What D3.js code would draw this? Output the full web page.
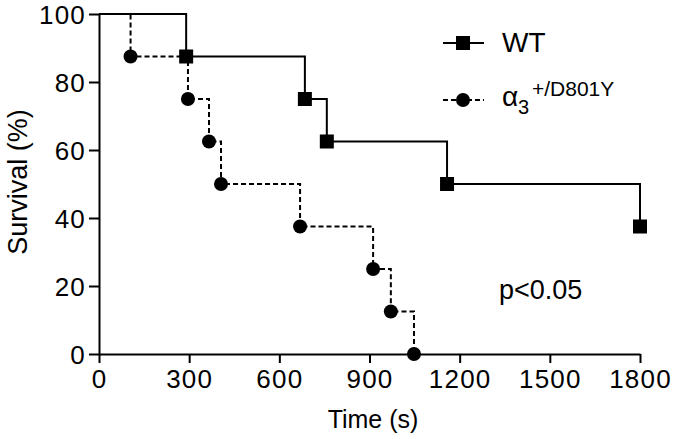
<!DOCTYPE html>
<html><head><meta charset="utf-8">
<script src="https://cdn.jsdelivr.net/npm/d3@7"></script>
<style>body{margin:0;background:#fff}text{font-family:"Liberation Sans",Arial,sans-serif;fill:#000}</style>
</head><body><svg id="c" width="675" height="439"></svg>
<script>
const wtTimes = [290, 685, 758, 1158, 1800];
const wtSurvival = [87.5, 75, 62.5, 50, 37.5];
const mutTimes = [105, 296, 366, 406, 669, 912, 971, 1048];
const mutSurvival = [87.5, 75, 62.5, 50, 37.5, 25, 12.5, 0];
const xTicks = [0, 300, 600, 900, 1200, 1500, 1800];
const yTicks = [0, 20, 40, 60, 80, 100];

const svg = d3.select("#c");
const x = d3.scaleLinear().domain([0, 1800]).range([99, 640]);
const y = d3.scaleLinear().domain([0, 100]).range([354, 14]);

const xAxis = svg.append("g").attr("transform", "translate(0,354)")
  .call(d3.axisBottom(x).tickValues(xTicks).tickFormat(d3.format("d")).tickSize(9).tickPadding(5).tickSizeOuter(0));
const yAxis = svg.append("g").attr("transform", "translate(99,0)")
  .call(d3.axisLeft(y).tickValues(yTicks).tickFormat(d3.format("d")).tickSize(10).tickPadding(3).tickSizeOuter(0));
[xAxis, yAxis].forEach(a => {
  a.select(".domain").attr("stroke", "#000").attr("stroke-width", 2);
  a.selectAll(".tick line").attr("stroke", "#000").attr("stroke-width", 2);
  a.selectAll(".tick text").attr("font-size", 26).attr("letter-spacing", 1.2)
    .attr("font-family", "Liberation Sans, Arial, sans-serif").attr("fill", "#000");
});
xAxis.selectAll(".tick text").attr("dy", "0.78em");
yAxis.selectAll(".tick text").attr("dy", "0.36em");

svg.append("text").attr("x", 373).attr("y", 428).attr("text-anchor", "middle").attr("font-size", 25).text("Time (s)");
svg.append("text").attr("transform", "translate(27,182) rotate(-90)").attr("text-anchor", "middle").attr("font-size", 27).text("Survival (%)");

const stepLine = d3.line().x(d => x(d[0])).y(d => y(d[1])).curve(d3.curveStepAfter);
const mutPts = [[0, 100]].concat(mutTimes.map((t, i) => [t, mutSurvival[i]]));
const wtPts = [[0, 100]].concat(wtTimes.map((t, i) => [t, wtSurvival[i]]));

svg.append("path").attr("d", stepLine(mutPts)).attr("fill", "none").attr("stroke", "#000").attr("stroke-width", 2).attr("stroke-dasharray", "5,3");
svg.append("path").attr("d", stepLine(wtPts)).attr("fill", "none").attr("stroke", "#000").attr("stroke-width", 2);

svg.selectAll(".mc").data(mutTimes).enter().append("circle")
  .attr("cx", d => x(d)).attr("cy", (d, i) => y(mutSurvival[i])).attr("r", 7).attr("fill", "#000");
svg.selectAll(".ws").data(wtTimes).enter().append("rect")
  .attr("x", d => x(d) - 7).attr("y", (d, i) => y(wtSurvival[i]) - 7).attr("width", 14).attr("height", 14).attr("fill", "#000");

// legend
const lg = svg.append("g");
lg.append("line").attr("x1", 443).attr("x2", 484).attr("y1", 43).attr("y2", 43).attr("stroke", "#000").attr("stroke-width", 2);
lg.append("rect").attr("x", 456).attr("y", 36).attr("width", 14).attr("height", 14).attr("fill", "#000");
lg.append("text").attr("x", 502).attr("y", 52).attr("font-size", 28).text("WT");
lg.append("line").attr("x1", 443).attr("x2", 484).attr("y1", 100).attr("y2", 100).attr("stroke", "#000").attr("stroke-width", 2).attr("stroke-dasharray", "5,3");
lg.append("circle").attr("cx", 463).attr("cy", 100).attr("r", 7).attr("fill", "#000");
lg.append("text").attr("x", 502).attr("y", 106).attr("font-size", 28).text("α");
lg.append("text").attr("x", 518).attr("y", 114).attr("font-size", 20).text("3");
lg.append("text").attr("x", 532).attr("y", 96).attr("font-size", 21).text("+/D801Y");

svg.append("text").attr("x", 499).attr("y", 299).attr("font-size", 27).text("p<0.05");
</script></body></html>
